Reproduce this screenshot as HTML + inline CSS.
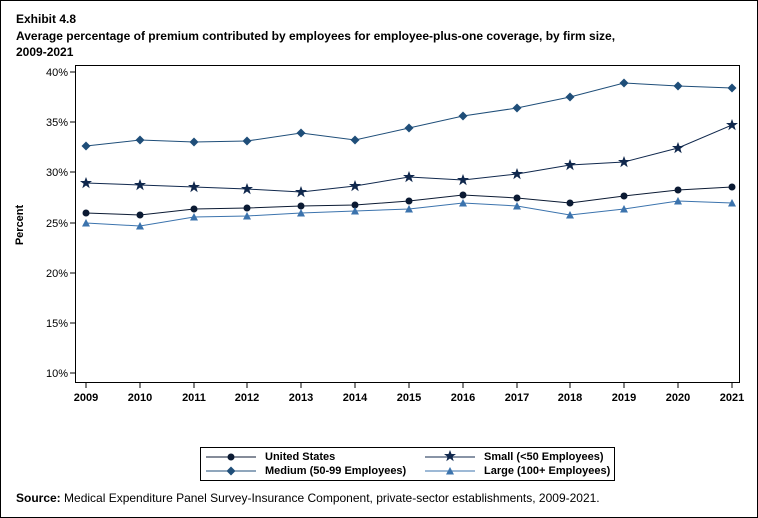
<!DOCTYPE html>
<html><head><style>
body{margin:0;background:#fff}
svg{display:block;font-family:"Liberation Sans",Arial,sans-serif}
</style></head><body>
<svg width="758" height="518" viewBox="0 0 758 518" xmlns="http://www.w3.org/2000/svg">
<rect x="0.5" y="0.5" width="757" height="517" fill="#fff" stroke="#000"/>
<text x="16" y="23" font-size="12" font-weight="bold">Exhibit 4.8</text>
<text x="16" y="40" font-size="12" font-weight="bold">Average percentage of premium contributed by employees for employee-plus-one coverage, by firm size,</text>
<text x="16" y="56" font-size="12" font-weight="bold">2009-2021</text>
<rect x="75.5" y="65.5" width="664" height="317" fill="none" stroke="#000"/>
<g font-size="11" text-anchor="end">
<text x="68" y="76">40%</text><line x1="70" x2="75" y1="72" y2="72" stroke="#000"/>
<text x="68" y="126">35%</text><line x1="70" x2="75" y1="122" y2="122" stroke="#000"/>
<text x="68" y="176">30%</text><line x1="70" x2="75" y1="172" y2="172" stroke="#000"/>
<text x="68" y="227">25%</text><line x1="70" x2="75" y1="223" y2="223" stroke="#000"/>
<text x="68" y="277">20%</text><line x1="70" x2="75" y1="273" y2="273" stroke="#000"/>
<text x="68" y="327">15%</text><line x1="70" x2="75" y1="323" y2="323" stroke="#000"/>
<text x="68" y="377">10%</text><line x1="70" x2="75" y1="373" y2="373" stroke="#000"/>
</g>
<text transform="translate(23,225) rotate(-90)" font-size="11" font-weight="bold" text-anchor="middle">Percent</text>
<g font-size="11" font-weight="bold" text-anchor="middle" id="xt"></g>
<g font-size="11" font-weight="bold" text-anchor="middle">
<text x="86" y="401">2009</text><text x="140" y="401">2010</text><text x="194" y="401">2011</text><text x="247" y="401">2012</text><text x="301" y="401">2013</text><text x="355" y="401">2014</text><text x="409" y="401">2015</text><text x="463" y="401">2016</text><text x="517" y="401">2017</text><text x="570" y="401">2018</text><text x="624" y="401">2019</text><text x="678" y="401">2020</text><text x="732" y="401">2021</text>
</g>
<g stroke="#000">
<line x1="86" x2="86" y1="383" y2="388"/><line x1="140" x2="140" y1="383" y2="388"/><line x1="194" x2="194" y1="383" y2="388"/><line x1="247" x2="247" y1="383" y2="388"/><line x1="301" x2="301" y1="383" y2="388"/><line x1="355" x2="355" y1="383" y2="388"/><line x1="409" x2="409" y1="383" y2="388"/><line x1="463" x2="463" y1="383" y2="388"/><line x1="517" x2="517" y1="383" y2="388"/><line x1="570" x2="570" y1="383" y2="388"/><line x1="624" x2="624" y1="383" y2="388"/><line x1="678" x2="678" y1="383" y2="388"/><line x1="732" x2="732" y1="383" y2="388"/>
</g>
<defs>
<circle id="c" r="3.5" fill="#0b1a33"/>
<path id="d" d="M0,-4.5L4.5,0L0,4.5L-4.5,0Z" fill="#1f4e79"/>
<path id="s" d="M0,-6L1.5,-2L6,-2L2.4,0.8L3.7,5.2L0,2.5L-3.7,5.2L-2.4,0.8L-6,-2L-1.5,-2Z" fill="#10284d"/>
<path id="t" d="M0,-4L4,3.5L-4,3.5Z" fill="#3b73ad"/>
</defs>
<polyline fill="none" stroke="#1f4e79" points="86,146 140,140 194,142 247,141 301,133 355,140 409,128 463,116 517,108 570,97 624,83 678,86 732,88"/>
<polyline fill="none" stroke="#10284d" points="86,183 140,185 194,187 247,189 301,192 355,186 409,177 463,180 517,174 570,165 624,162 678,148 732,125"/>
<polyline fill="none" stroke="#0b1a33" points="86,213 140,215 194,209 247,208 301,206 355,205 409,201 463,195 517,198 570,203 624,196 678,190 732,187"/>
<polyline fill="none" stroke="#3b73ad" points="86,223 140,226 194,217 247,216 301,213 355,211 409,209 463,203 517,206 570,215 624,209 678,201 732,203"/>
<g>
<use href="#d" x="86" y="146"/><use href="#d" x="140" y="140"/><use href="#d" x="194" y="142"/><use href="#d" x="247" y="141"/><use href="#d" x="301" y="133"/><use href="#d" x="355" y="140"/><use href="#d" x="409" y="128"/><use href="#d" x="463" y="116"/><use href="#d" x="517" y="108"/><use href="#d" x="570" y="97"/><use href="#d" x="624" y="83"/><use href="#d" x="678" y="86"/><use href="#d" x="732" y="88"/>
<use href="#s" x="86" y="183"/><use href="#s" x="140" y="185"/><use href="#s" x="194" y="187"/><use href="#s" x="247" y="189"/><use href="#s" x="301" y="192"/><use href="#s" x="355" y="186"/><use href="#s" x="409" y="177"/><use href="#s" x="463" y="180"/><use href="#s" x="517" y="174"/><use href="#s" x="570" y="165"/><use href="#s" x="624" y="162"/><use href="#s" x="678" y="148"/><use href="#s" x="732" y="125"/>
<use href="#c" x="86" y="213"/><use href="#c" x="140" y="215"/><use href="#c" x="194" y="209"/><use href="#c" x="247" y="208"/><use href="#c" x="301" y="206"/><use href="#c" x="355" y="205"/><use href="#c" x="409" y="201"/><use href="#c" x="463" y="195"/><use href="#c" x="517" y="198"/><use href="#c" x="570" y="203"/><use href="#c" x="624" y="196"/><use href="#c" x="678" y="190"/><use href="#c" x="732" y="187"/>
<use href="#t" x="86" y="223"/><use href="#t" x="140" y="226"/><use href="#t" x="194" y="217"/><use href="#t" x="247" y="216"/><use href="#t" x="301" y="213"/><use href="#t" x="355" y="211"/><use href="#t" x="409" y="209"/><use href="#t" x="463" y="203"/><use href="#t" x="517" y="206"/><use href="#t" x="570" y="215"/><use href="#t" x="624" y="209"/><use href="#t" x="678" y="201"/><use href="#t" x="732" y="203"/>
</g>
<rect x="200.5" y="447.5" width="414" height="33" fill="none" stroke="#000"/>
<g font-size="11" font-weight="bold">
<line x1="206" x2="256" y1="457" y2="457" stroke="#0b1a33"/><use href="#c" x="231" y="457"/><text x="265" y="460">United States</text>
<line x1="425" x2="475" y1="457" y2="457" stroke="#10284d"/><use href="#s" x="450" y="456"/><text x="484" y="460">Small (&lt;50 Employees)</text>
<line x1="206" x2="256" y1="471" y2="471" stroke="#1f4e79"/><use href="#d" x="231" y="471"/><text x="265" y="474">Medium (50-99 Employees)</text>
<line x1="425" x2="475" y1="471" y2="471" stroke="#3b73ad"/><use href="#t" x="450" y="471"/><text x="484" y="474">Large (100+ Employees)</text>
</g>
<text x="16" y="502" font-size="12"><tspan font-weight="bold">Source:</tspan> Medical Expenditure Panel Survey-Insurance Component, private-sector establishments, 2009-2021.</text>
</svg>
</body></html>
